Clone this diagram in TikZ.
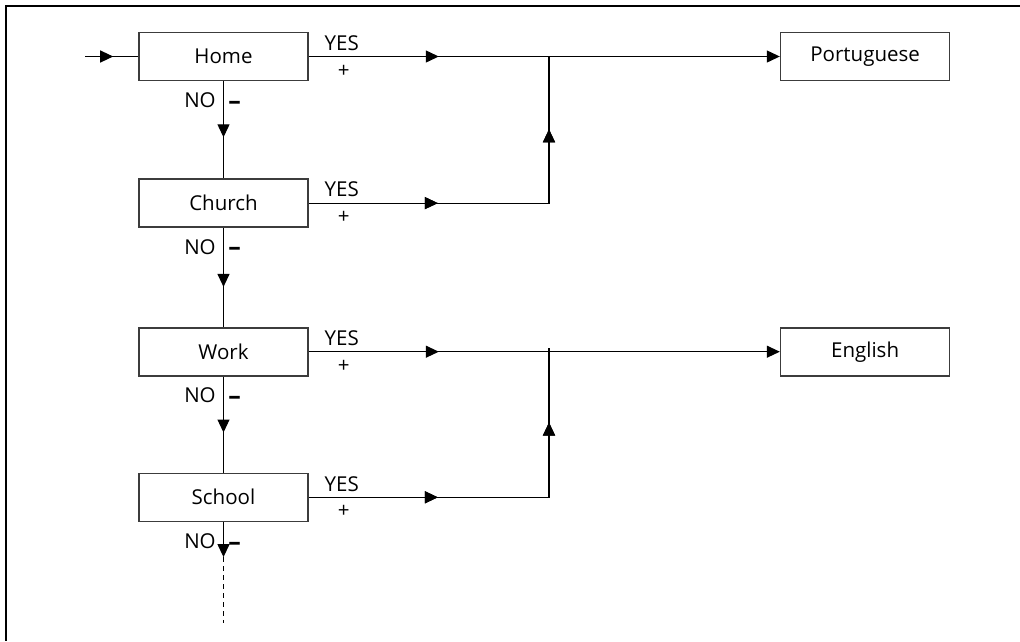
\documentclass[tikz,border=0pt]{standalone}
\usepackage{fontspec}
\setmainfont{Open Sans}
\usepackage{tikz}
\usetikzlibrary{arrows.meta, positioning, decorations.markings}
\definecolor{boxline}{RGB}{60, 60, 60}

\begin{document}
\begin{tikzpicture}[
    x=1pt, y=1pt,
    font=\fontsize{20.5}{24}\selectfont,
    place/.style={draw=boxline, line width=1.6pt, minimum width=169pt,
                  minimum height=48pt, inner sep=0pt, align=center},
    flow/.style={draw=black, line width=1.2pt},
    tip/.style={-{Triangle[length=13pt, width=12pt]}},
    midarrow/.style={postaction={decorate}, decoration={markings,
                 mark=at position #1 with {\arrow{Triangle[length=13pt, width=12pt]}}}},
    lbl/.style={inner sep=0pt}
]
    \useasboundingbox (0,0) rectangle (1020,-641);
    % frame
    \draw[line width=1.4pt] (1020,-6) -- (6,-6) -- (6,-641);

    % domains
    \node[place] (home) at (223.5,-56.5) {Home};
    \node[place, below=97pt of home] (church) {Church};
    \node[place, below=99pt of church] (work) {Work};
    \node[place, below=96pt of work] (school) {School};

    % languages
    \node[place, right=471pt of home] (portuguese) {Portuguese};
    \node[place, right=471pt of work] (english) {English};

    \coordinate[left=53pt of home] (start);
    \coordinate (pmerge) at (549,-56.5);
    \coordinate (emerge) at (549,-348);

    % entry
    \draw[flow, midarrow=28pt] (start) -- (home);

    % YES branches
    \draw[flow, tip, midarrow=130pt] (home.east) -- (portuguese.west);
    \draw[flow, midarrow=129pt, midarrow=314pt] (church.east) -- (church.east -| pmerge) -- (pmerge);
    \draw[flow, tip, midarrow=130pt] (work.east) -- (english.west);
    \draw[flow, midarrow=129pt, midarrow=315pt] (school.east) -- (school.east -| emerge) -- (emerge);

    % NO branches
    \draw[flow, midarrow=56pt] (home.south) -- (church.north);
    \draw[flow, midarrow=59pt] (church.south) -- (work.north);
    \draw[flow, midarrow=56pt] (work.south) -- (school.north);
    \draw[flow, tip] (school.south) -- ++(0,-35) coordinate (more);
    \draw[flow, line width=1pt, dash pattern=on 5pt off 4pt] (more) -- ++(0,-66);

    % labels
    \foreach \n in {home, church, work, school}{
        \node[lbl] at ([xshift=33pt, yshift=13.5pt]\n.east) {YES};
        \node[lbl] at ([xshift=35pt, yshift=-14.5pt]\n.east) {+};
        \node[lbl] at ([xshift=-23.5pt, yshift=-19pt]\n.south) {NO};
        \node[lbl, anchor=base] at ([xshift=11pt, yshift=-28pt]\n.south)
            {\fontsize{25}{25}\selectfont\bfseries –};
    }
\end{tikzpicture}
\end{document}
